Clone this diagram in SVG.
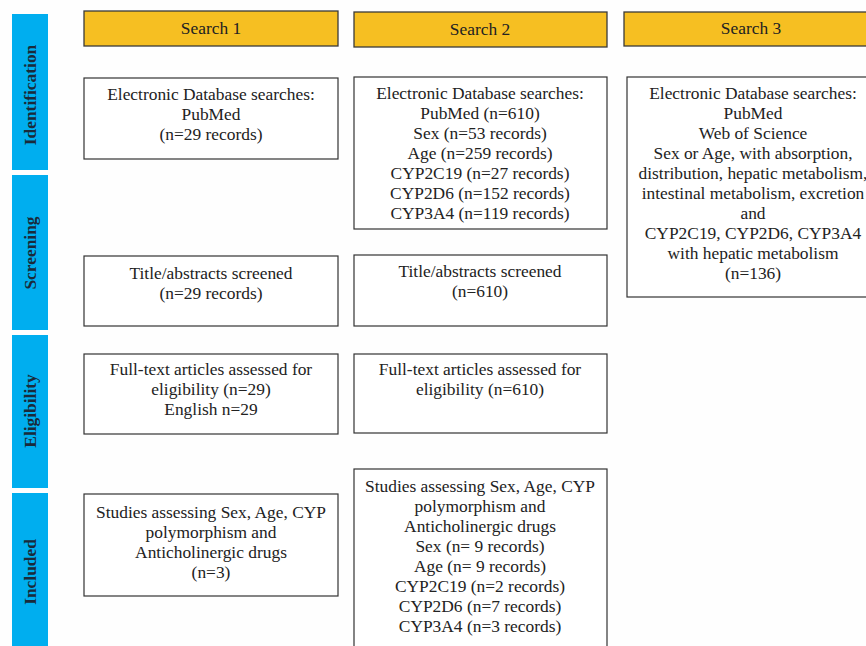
<svg xmlns="http://www.w3.org/2000/svg" width="866" height="646" viewBox="0 0 866 646">
<style>
.bg{fill:#fefefe}
.hdr{fill:#F6BF22;stroke:#3a3a3a;stroke-width:1.3}
.box{fill:#ffffff;stroke:#333333;stroke-width:1.2}
.side{fill:#00AEEF}
.t{font-family:"Liberation Serif","Times New Roman",serif;font-size:17.4px;fill:#222;text-anchor:middle}
.s{font-family:"Liberation Serif","Times New Roman",serif;font-size:17.4px;font-weight:bold;fill:#1a2a3a;text-anchor:middle}
</style>
<rect class="bg" x="0" y="0" width="866" height="646"/>
<g id="stage-identification"><rect class="side" x="12" y="14" width="36" height="156"/><text class="s" transform="translate(36,95) rotate(-90)">Identification</text></g>
<g id="stage-screening"><rect class="side" x="12" y="175" width="36" height="155"/><text class="s" transform="translate(36,253) rotate(-90)">Screening</text></g>
<g id="stage-eligibility"><rect class="side" x="12" y="335" width="36" height="153"/><text class="s" transform="translate(36,411) rotate(-90)">Eligibility</text></g>
<g id="stage-included"><rect class="side" x="12" y="493" width="36" height="160"/><text class="s" transform="translate(36,572) rotate(-90)">Included</text></g>

<g id="search1"><rect class="hdr" x="84" y="11" width="254" height="35"/><text class="t" x="211" y="34">Search 1</text></g>
<g id="search2"><rect class="hdr" x="354" y="12" width="253" height="35"/><text class="t" x="480" y="35">Search 2</text></g>
<g id="search3"><rect class="hdr" x="624" y="12" width="250" height="34"/><text class="t" x="751" y="34">Search 3</text></g>

<g id="s1-identification"><rect class="box" x="84" y="78" width="254" height="81"/>
<text class="t" x="211" y="100">Electronic Database searches:</text>
<text class="t" x="211" y="120">PubMed</text>
<text class="t" x="211" y="140">(n=29 records)</text></g>

<g id="s2-identification"><rect class="box" x="354" y="77" width="253" height="152"/>
<text class="t" x="480" y="99">Electronic Database searches:</text>
<text class="t" x="480" y="119">PubMed (n=610)</text>
<text class="t" x="480" y="139">Sex (n=53 records)</text>
<text class="t" x="480" y="159">Age (n=259 records)</text>
<text class="t" x="480" y="179">CYP2C19 (n=27 records)</text>
<text class="t" x="480" y="199">CYP2D6 (n=152 records)</text>
<text class="t" x="480" y="219">CYP3A4 (n=119 records)</text></g>

<g id="s3-identification"><rect class="box" x="627" y="77" width="250" height="220"/>
<text class="t" x="753" y="99">Electronic Database searches:</text>
<text class="t" x="753" y="119">PubMed</text>
<text class="t" x="753" y="139">Web of Science</text>
<text class="t" x="753" y="159">Sex or Age, with absorption,</text>
<text class="t" x="753" y="179">distribution, hepatic metabolism,</text>
<text class="t" x="753" y="199">intestinal metabolism, excretion</text>
<text class="t" x="753" y="219">and</text>
<text class="t" x="753" y="239">CYP2C19, CYP2D6, CYP3A4</text>
<text class="t" x="753" y="259">with hepatic metabolism</text>
<text class="t" x="753" y="279">(n=136)</text></g>

<g id="s1-screening"><rect class="box" x="84" y="256" width="254" height="70"/>
<text class="t" x="211" y="279">Title/abstracts screened</text>
<text class="t" x="211" y="299">(n=29 records)</text></g>

<g id="s2-screening"><rect class="box" x="354" y="255" width="253" height="71"/>
<text class="t" x="480" y="277">Title/abstracts screened</text>
<text class="t" x="480" y="297">(n=610)</text></g>

<g id="s1-eligibility"><rect class="box" x="84" y="354" width="254" height="80"/>
<text class="t" x="211" y="375">Full-text articles assessed for</text>
<text class="t" x="211" y="395">eligibility (n=29)</text>
<text class="t" x="211" y="415">English n=29</text></g>

<g id="s2-eligibility"><rect class="box" x="354" y="354" width="253" height="79"/>
<text class="t" x="480" y="375">Full-text articles assessed for</text>
<text class="t" x="480" y="395">eligibility (n=610)</text></g>

<g id="s1-included"><rect class="box" x="84" y="494" width="254" height="102"/>
<text class="t" x="211" y="518">Studies assessing Sex, Age, CYP</text>
<text class="t" x="211" y="538">polymorphism and</text>
<text class="t" x="211" y="558">Anticholinergic drugs</text>
<text class="t" x="211" y="578">(n=3)</text></g>

<g id="s2-included"><rect class="box" x="354" y="469" width="253" height="190"/>
<text class="t" x="480" y="492">Studies assessing Sex, Age, CYP</text>
<text class="t" x="480" y="512">polymorphism and</text>
<text class="t" x="480" y="532">Anticholinergic drugs</text>
<text class="t" x="480" y="552">Sex (n= 9 records)</text>
<text class="t" x="480" y="572">Age (n= 9 records)</text>
<text class="t" x="480" y="592">CYP2C19 (n=2 records)</text>
<text class="t" x="480" y="612">CYP2D6 (n=7 records)</text>
<text class="t" x="480" y="632">CYP3A4 (n=3 records)</text></g>

<g id="connectors"></g>
</svg>
